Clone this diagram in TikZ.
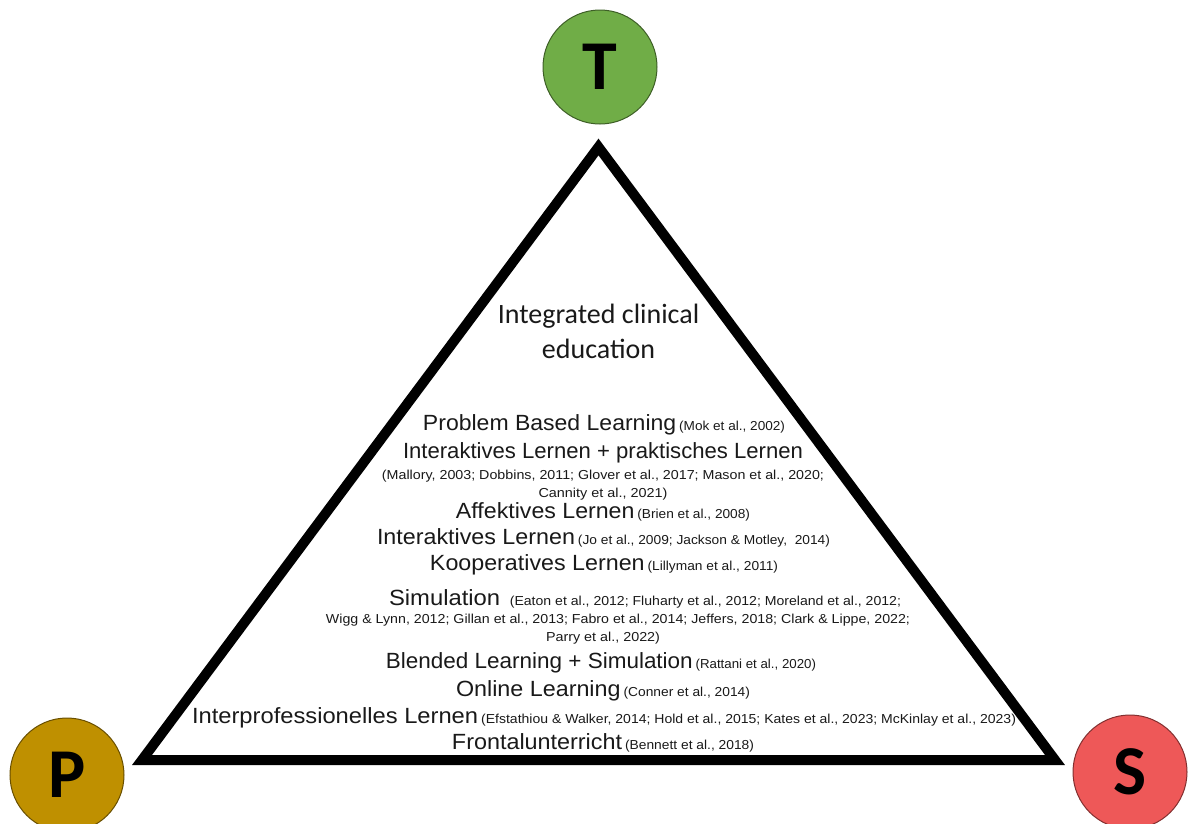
\documentclass[tikz,border=0pt]{standalone}
\usepackage{fontspec}
\usepackage{graphicx}
\setmainfont{Liberation Sans}
\newfontfamily\calibri{Carlito}

% pole colours
\definecolor{tgreen}{RGB}{112,173,71}
\definecolor{pgold}{RGB}{191,144,0}
\definecolor{sred}{RGB}{238,88,88}
\definecolor{ink}{RGB}{25,25,25}

% text sizes of the list inside the triangle
\newcommand\mainsz{\fontsize{22}{26}\selectfont}
\newcommand\citesz{\fontsize{13}{15}\selectfont}
% stretch or squeeze a line horizontally to a given width (in pt)
\newcommand\fitto[2]{\resizebox{#1pt}{\height}{#2}}
\newcommand\entry[2]{{\mainsz #1}\ {\citesz #2}}

\tikzset{
  pole/.style={circle, draw=#1!55!black, line width=1pt, fill=#1,
    minimum size=114pt, inner sep=0pt,
    font=\calibri\bfseries\fontsize{70}{70}\selectfont, text=black},
  frame/.style={line width=10pt, line join=miter, draw=black},
  row/.style={anchor=base, inner sep=0pt, text=ink},
  heading/.style={anchor=base, inner sep=0pt, text=ink,
    font=\calibri\fontsize{28}{34}\selectfont}
}

\begin{document}
\begin{tikzpicture}[x=1pt, y=-1pt]
  \useasboundingbox (0,0) rectangle (1189,823);
  \clip (0,0) rectangle (1189,823);

  % the three poles
  \node[pole=tgreen] (T) at (600,67) {T};
  \node[pole=pgold]  (P) at (67,775) {P};
  \node[pole=sred]   (S) at (1130,772) {S};

  % triangle
  \coordinate (apex) at (598.5,147);
  \coordinate (bl) at (142,760);
  \coordinate (br) at (1055,760);
  \draw[frame] (apex) -- (bl) -- (br) -- cycle;

  % heading
  \node[heading] (h1) at (598.5,323) {Integrated clinical};
  \node[heading] (h2) at (598.5,358) {education};

  % teaching methods with their references
  \node[row] (l1) at (604,430) {\fitto{362}{\entry{Problem Based Learning}{(Mok et al., 2002)}}};
  \node[row] (l2) at (603,458) {\fitto{400}{\mainsz Interaktives Lernen + praktisches Lernen}};
  \node[row] (l3) at (603,479) {\fitto{442}{\citesz (Mallory, 2003; Dobbins, 2011; Glover et al., 2017; Mason et al., 2020;}};
  \node[row] (l4) at (603,497) {\fitto{129}{\citesz Cannity et al., 2021)}};
  \node[row] (l5) at (603,518) {\fitto{294}{\entry{Affektives Lernen}{(Brien et al., 2008)}}};
  \node[row] (l6) at (603.5,544) {\fitto{453}{\entry{Interaktives Lernen}{(Jo et al., 2009; Jackson \& Motley,\ \ 2014)}}};
  \node[row] (l7) at (604,570) {\fitto{348}{\entry{Kooperatives Lernen}{(Lillyman et al., 2011)}}};
  \node[row] (l8) at (645,605) {\fitto{512}{\entry{Simulation\ }{(Eaton et al., 2012; Fluharty et al., 2012; Moreland et al., 2012;}}};
  \node[row] (l9) at (618,623) {\fitto{584}{\citesz Wigg \& Lynn, 2012; Gillan et al., 2013; Fabro et al., 2014; Jeffers, 2018; Clark \& Lippe, 2022;}};
  \node[row] (l10) at (603,641) {\fitto{114}{\citesz Parry et al., 2022)}};
  \node[row] (l11) at (601,668) {\fitto{430}{\entry{Blended Learning + Simulation}{(Rattani et al., 2020)}}};
  \node[row] (l12) at (603,696) {\fitto{294}{\entry{Online Learning}{(Conner et al., 2014)}}};
  \node[row] (l13) at (604,723) {\fitto{824}{\entry{Interprofessionelles Lernen}{(Efstathiou \& Walker, 2014; Hold et al., 2015; Kates et al., 2023; McKinlay et al., 2023)}}};
  \node[row] (l14) at (603,749) {\fitto{302}{\entry{Frontalunterricht}{(Bennett et al., 2018)}}};
\end{tikzpicture}
\end{document}
